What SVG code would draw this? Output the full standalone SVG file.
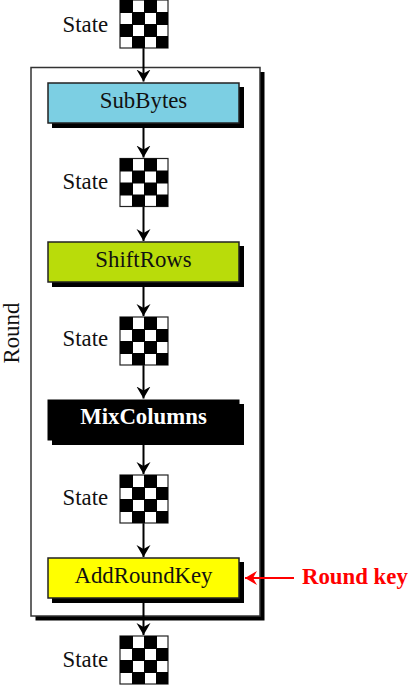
<svg xmlns="http://www.w3.org/2000/svg" width="420" height="685" viewBox="0 0 420 685">
<style>
text{font-family:"Liberation Serif","Times New Roman",serif;font-size:22.8px;fill:#111}
.c{text-anchor:middle}
.b{font-weight:bold}
.shadow{fill:#000;stroke:none}
.box{stroke:#222;stroke-width:1.5}
.wire{stroke:#000;stroke-width:2;fill:none}
</style>
<defs>
<marker id="head" markerUnits="userSpaceOnUse" markerWidth="14" markerHeight="16" refX="12" refY="7.500" orient="auto">
<path d="M0 0.500L12 7.500L0 14.500L4 7.500Z" fill="#000"/>
</marker>
<marker id="headRed" markerUnits="userSpaceOnUse" markerWidth="14" markerHeight="16" refX="12" refY="7.500" orient="auto">
<path d="M0 0.500L12 7.500L0 14.500L4 7.500Z" fill="#f00"/>
</marker>
<g id="grid">
<rect width="48" height="48" fill="#fff" stroke="#222" stroke-width="1.200"/>
<path d="M0 0h13v13h-13zM24 0h13v13h-13zM12 12h13v13h-13zM36 12h12v13h-12zM0 24h13v13h-13zM24 24h13v13h-13zM12 36h13v12h-13zM36 36h12v12h-12z" fill="#000"/>
</g>
</defs>
<g id="round-frame">
<rect class="shadow" x="35.500" y="72" width="229" height="548.500"/>
<rect x="31" y="67.500" width="229" height="548.500" fill="#fff" stroke="#333" stroke-width="1.500"/>
<text transform="translate(19 363.500) rotate(-90)">Round</text>
</g>
<g id="connectors">
<path class="wire" d="M143.500 48V81.500" marker-end="url(#head)"/>
<path class="wire" d="M143.500 123V157.500" marker-end="url(#head)"/>
<path class="wire" d="M143.500 206V241" marker-end="url(#head)"/>
<path class="wire" d="M143.500 282V316" marker-end="url(#head)"/>
<path class="wire" d="M143.500 365V398.500" marker-end="url(#head)"/>
<path class="wire" d="M143.500 440V474" marker-end="url(#head)"/>
<path class="wire" d="M143.500 523V557" marker-end="url(#head)"/>
<path class="wire" d="M143.500 598V635" marker-end="url(#head)"/>
<path d="M294 578H245" stroke="#f00" stroke-width="2" fill="none" marker-end="url(#headRed)"/>
</g>
<g id="state-0"><use href="#grid" x="120" y="0"/><text x="62.500" y="32">State</text></g>
<g id="subbytes"><rect class="shadow" x="52" y="87" width="192" height="41"/><rect class="box" x="48" y="83" width="191" height="40" fill="#7ccfe3"/><text class="c" x="143.500" y="108">SubBytes</text></g>
<g id="state-1"><use href="#grid" x="120" y="158.500"/><text x="62.500" y="189">State</text></g>
<g id="shiftrows"><rect class="shadow" x="52" y="246" width="192" height="41"/><rect class="box" x="48" y="242" width="191" height="40" fill="#b9dc0a"/><text class="c" x="143.500" y="267">ShiftRows</text></g>
<g id="state-2"><use href="#grid" x="120" y="317"/><text x="62.500" y="346">State</text></g>
<g id="mixcolumns"><rect class="shadow" x="52" y="404" width="192" height="41"/><rect x="47.500" y="399.500" width="192" height="41" fill="#000"/><text class="c b" x="143.500" y="424" style="fill:#fff">MixColumns</text></g>
<g id="state-3"><use href="#grid" x="120" y="475"/><text x="62.500" y="505">State</text></g>
<g id="addroundkey"><rect class="shadow" x="52" y="562" width="192" height="41"/><rect class="box" x="48" y="558" width="191" height="40" fill="#ff0"/><text class="c" x="143.500" y="583">AddRoundKey</text></g>
<g id="state-4"><use href="#grid" x="120" y="636"/><text x="62.500" y="667">State</text></g>
<g id="round-key"><text class="b" x="302" y="584" style="fill:#f00">Round key</text></g>
</svg>
